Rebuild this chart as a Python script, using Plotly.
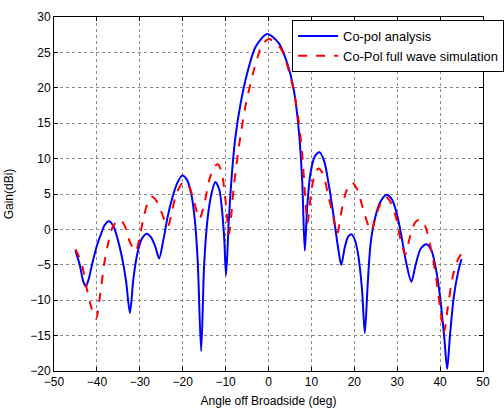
import plotly.graph_objects as go

x_blue = [-45, -44, -43.2, -42.6, -42, -41, -40, -39, -38.2, -37.2, -36.2, -35.2, -34.2, -33.2, -32.3,
          -31.5, -30.5, -29.5, -28.4, -27.4, -26.4, -25.5, -24.6, -23.5, -22.5, -21.3, -20.1, -19, -18,
          -17.2, -16.5, -15.7, -15, -14.2, -13.3, -12.4, -11.5, -10.8, -10.3, -9.9, -9.25, -8.46, -7.7,
          -6.5, -5.0, -3.0, -0.3, 2.4, 4.35, 5.9, 7.06, 7.85, 8.46, 9.0, 9.8, 10.8, 11.9, 13.0, 14.0,
          15.2, 16.2, 16.95, 17.8, 18.6, 19.35, 20.2, 21.0, 21.8, 22.45, 23.1, 23.8, 24.8, 26.0, 27.5,
          28.8, 30.0, 31.0, 32.2, 33.3, 34.3, 35.5, 36.8, 38.0, 39.0, 40.0, 41.0, 41.65, 42.3, 43.2,
          44.2, 45]
y_blue = [-3.0, -5.0, -7.3, -8.05, -7.2, -4.6, -2.3, -0.6, 0.6, 1.15, 0.5, -1.3, -3.8, -7.3, -11.8,
          -7.0, -3.2, -1.3, -0.6, -1.1, -2.4, -4.1, -1.8, 1.8, 4.3, 6.5, 7.6, 7.0, 5.0,
          1.5, -4.5, -17.2, -5.0, 1.5, 5.0, 6.7, 5.7, 2.5, -1.5, -6.5, 1.3, 8.4, 13.1,
          17.8, 22.0, 25.8, 27.6, 26.3, 23.5, 19.7, 14.0, 6.9, -3.0, 3.0, 8.0, 10.3, 10.9, 9.6, 6.5,
          1.8, -2.5, -5.0, -2.5, -1.0, -0.7, -1.6, -4.0, -8.5, -14.65, -8.0, -2.0, 1.5, 3.8, 4.9,
          4.2, 2.0, -1.0, -5.0, -7.4, -5.0, -2.7, -2.1, -3.0, -5.5, -9.5, -15.5, -19.7, -15.0, -9.5,
          -6.0, -4.2]

x_red = [-45, -44.2, -43.3, -42.3, -41.2, -40.2, -39.2, -38.2, -37.2, -36.2, -34.7, -33.5, -32.3, -31.0,
         -30.0, -29.0, -28.0, -27.2, -26.2, -25.0, -23.5, -22.5, -21.5, -19.8, -18.5, -17.3, -16.1,
         -15.0, -13.8, -12.7, -11.8, -10.9, -10.0, -9.2, -8.1, -6.9, -5.4, -3.4, -1.5, 0.07, 2.8, 5.1,
         6.7, 7.85, 8.5, 9.1, 10.0, 10.9, 11.7, 12.7, 13.8, 15.0, 16.0, 17.0, 18.2, 19.5, 20.8, 22.0,
         23.9, 25.0, 26.2, 27.3, 28.5, 29.8, 30.8, 31.9, 33.0, 34.2, 35.3, 36.5, 37.8, 39.0, 40.0,
         40.9, 41.8, 43.0, 44.2, 45]
y_red = [-2.8, -3.8, -5.5, -8.5, -11.2, -12.6, -9.0, -4.5, -1.5, 0.5, 1.4, 0.5, -1.8, -3.1,
         -1.0, 2.0, 4.0, 4.6, 4.1, 2.5, 0.4, 2.5, 5.0, 6.7, 6.0, 3.8, 1.5,
         3.5, 7.0, 8.8, 9.2, 8.0, 4.0, -0.6, 6.0, 11.7, 17.3, 22.5, 26.0, 26.9, 25.6, 21.6,
         16.8, 10.7, 5.0, 0.9, 5.5, 8.0, 8.6, 7.8, 5.2, 2.0, -0.6, 2.5, 5.5, 6.6, 5.5, 3.0,
         -0.2, 1.8, 3.8, 4.6, 3.8, 1.5, -1.5, -3.5, -1.0, 1.0, 1.4, 0.5, -2.5, -6.5, -11.0,
         -14.5, -11.0, -6.5, -4.2, -3.4]

fig = go.Figure()
fig.add_trace(go.Scatter(x=x_blue, y=y_blue, mode="lines", name="Co-pol analysis",
                         line=dict(color="#0000ff", width=2, shape="spline", smoothing=0.8)))
fig.add_trace(go.Scatter(x=x_red, y=y_red, mode="lines", name="Co-Pol full wave simulation",
                         line=dict(color="#ff0000", width=2, dash="dash", shape="spline", smoothing=0.8)))

axis_common = dict(showline=True, linecolor="black", linewidth=1, mirror="ticks",
                   ticks="inside", ticklen=4, tickcolor="black", automargin=False,
                   showgrid=True, gridcolor="#8a8a8a", griddash="dot", gridwidth=1,
                   zeroline=False, tickfont=dict(family="Arial", size=12, color="black"))

fig.update_layout(
    width=504, height=408,
    margin=dict(l=54, r=21, t=17, b=37, autoexpand=False),
    paper_bgcolor="white", plot_bgcolor="white",
    font=dict(family="Arial", size=12, color="black"),
    xaxis=dict(range=[-50, 50], dtick=10, tick0=-50,
               title=dict(text="Angle off Broadside (deg)", standoff=8, font=dict(size=12)),
               **axis_common),
    yaxis=dict(range=[-20, 30], dtick=5, tick0=-20,
               title=dict(text="Gain(dBi)", standoff=14, font=dict(size=12)),
               **axis_common),
    legend=dict(x=0.555, y=0.9915, xanchor="left", yanchor="top",
                bgcolor="white", bordercolor="black", borderwidth=1, itemwidth=40,
                font=dict(family="Arial", size=12.9), tracegroupgap=0),
    showlegend=True,
)

fig.write_html("out.html", config={"displayModeBar": False},
               post_script="document.body.style.margin='0';document.body.style.overflow='hidden';")
